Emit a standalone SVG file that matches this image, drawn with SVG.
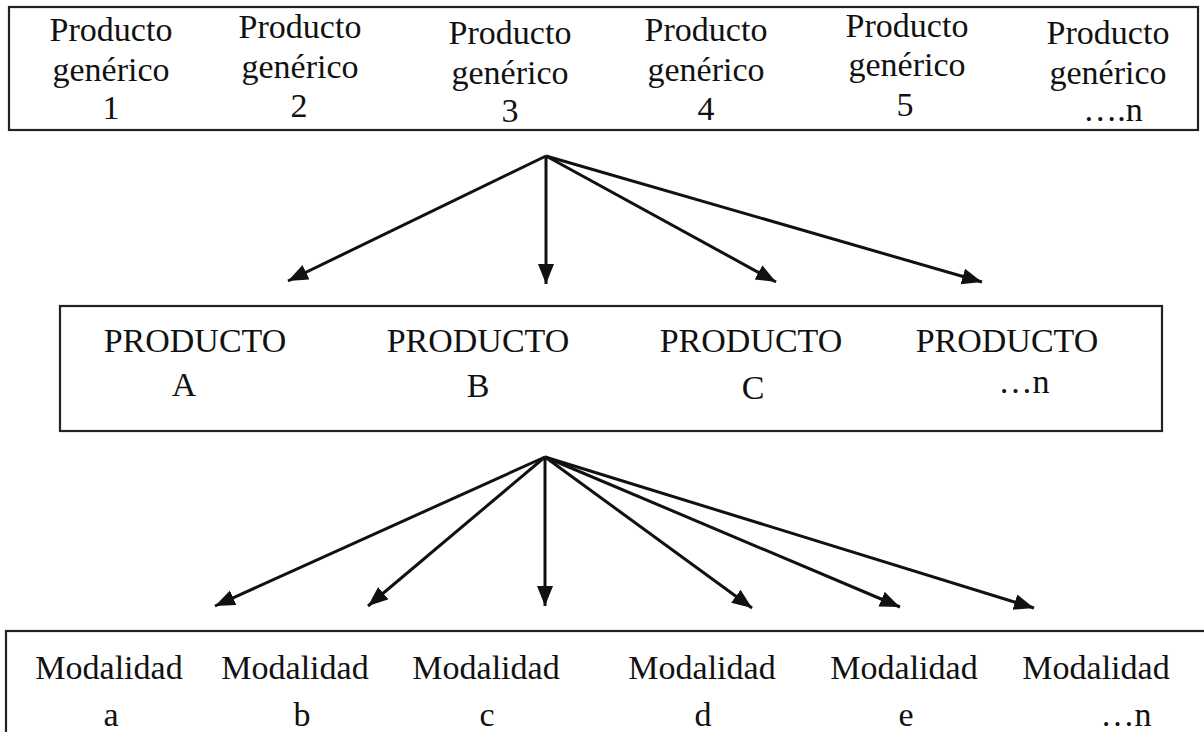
<svg xmlns="http://www.w3.org/2000/svg" width="1204" height="732" viewBox="0 0 1204 732">
<style>
  .box { fill: #ffffff; stroke: #222222; stroke-width: 2.2; }
  .t { font-family: "Liberation Serif", "Times New Roman", serif; font-size: 34px; fill: #111111; text-anchor: middle; }
  .arr { stroke: #111111; stroke-width: 3; fill: none; marker-end: url(#ah); }
</style>
<defs>
  <marker id="ah" markerUnits="userSpaceOnUse" markerWidth="22" markerHeight="18" refX="20" refY="8" orient="auto">
    <path d="M0,0 L20,8 L0,16 Z" fill="#111111"/>
  </marker>
</defs>
<rect width="1204" height="732" fill="#ffffff"/>

<g id="genericos">
  <rect class="box" x="9" y="7" width="1189" height="123"/>
  <g id="g1"><text class="t" x="111" y="41">Producto</text><text class="t" x="111" y="81">genérico</text><text class="t" x="111" y="119">1</text></g>
  <g id="g2"><text class="t" x="300" y="38">Producto</text><text class="t" x="300" y="78">genérico</text><text class="t" x="299" y="117">2</text></g>
  <g id="g3"><text class="t" x="510" y="44">Producto</text><text class="t" x="510" y="84">genérico</text><text class="t" x="510" y="122">3</text></g>
  <g id="g4"><text class="t" x="706" y="41">Producto</text><text class="t" x="706" y="81">genérico</text><text class="t" x="706" y="120">4</text></g>
  <g id="g5"><text class="t" x="907" y="37">Producto</text><text class="t" x="907" y="76">genérico</text><text class="t" x="905" y="116">5</text></g>
  <g id="g6"><text class="t" x="1108" y="44">Producto</text><text class="t" x="1108" y="84">genérico</text><text class="t" x="1113" y="121">….n</text></g>
</g>

<g id="productos">
  <rect class="box" x="60" y="306" width="1102" height="125"/>
  <g id="pA"><text class="t" x="195" y="352">PRODUCTO</text><text class="t" x="184" y="396">A</text></g>
  <g id="pB"><text class="t" x="478" y="352">PRODUCTO</text><text class="t" x="478" y="397">B</text></g>
  <g id="pC"><text class="t" x="751" y="352">PRODUCTO</text><text class="t" x="753" y="399">C</text></g>
  <g id="pN"><text class="t" x="1007" y="352">PRODUCTO</text><text class="t" x="1024" y="393">…n</text></g>
</g>

<g id="modalidades">
  <rect class="box" x="6" y="631" width="1220" height="130"/>
  <g id="ma"><text class="t" x="109" y="679">Modalidad</text><text class="t" x="111" y="726">a</text></g>
  <g id="mb"><text class="t" x="295" y="679">Modalidad</text><text class="t" x="302" y="726">b</text></g>
  <g id="mc"><text class="t" x="486" y="679">Modalidad</text><text class="t" x="487" y="726">c</text></g>
  <g id="md"><text class="t" x="702" y="679">Modalidad</text><text class="t" x="703" y="726">d</text></g>
  <g id="me"><text class="t" x="904" y="679">Modalidad</text><text class="t" x="906" y="726">e</text></g>
  <g id="mn"><text class="t" x="1096" y="679">Modalidad</text><text class="t" x="1126" y="726">…n</text></g>
</g>

<g id="connectors">
  <line class="arr" x1="546" y1="156" x2="288" y2="281"/>
  <line class="arr" x1="546" y1="156" x2="546" y2="284"/>
  <line class="arr" x1="546" y1="156" x2="776" y2="282"/>
  <line class="arr" x1="546" y1="156" x2="982" y2="282"/>
  <line class="arr" x1="545" y1="457" x2="215" y2="606"/>
  <line class="arr" x1="545" y1="457" x2="368" y2="606"/>
  <line class="arr" x1="545" y1="457" x2="545" y2="606"/>
  <line class="arr" x1="545" y1="457" x2="752" y2="608"/>
  <line class="arr" x1="545" y1="457" x2="900" y2="607"/>
  <line class="arr" x1="545" y1="457" x2="1034" y2="608"/>
</g>
</svg>
